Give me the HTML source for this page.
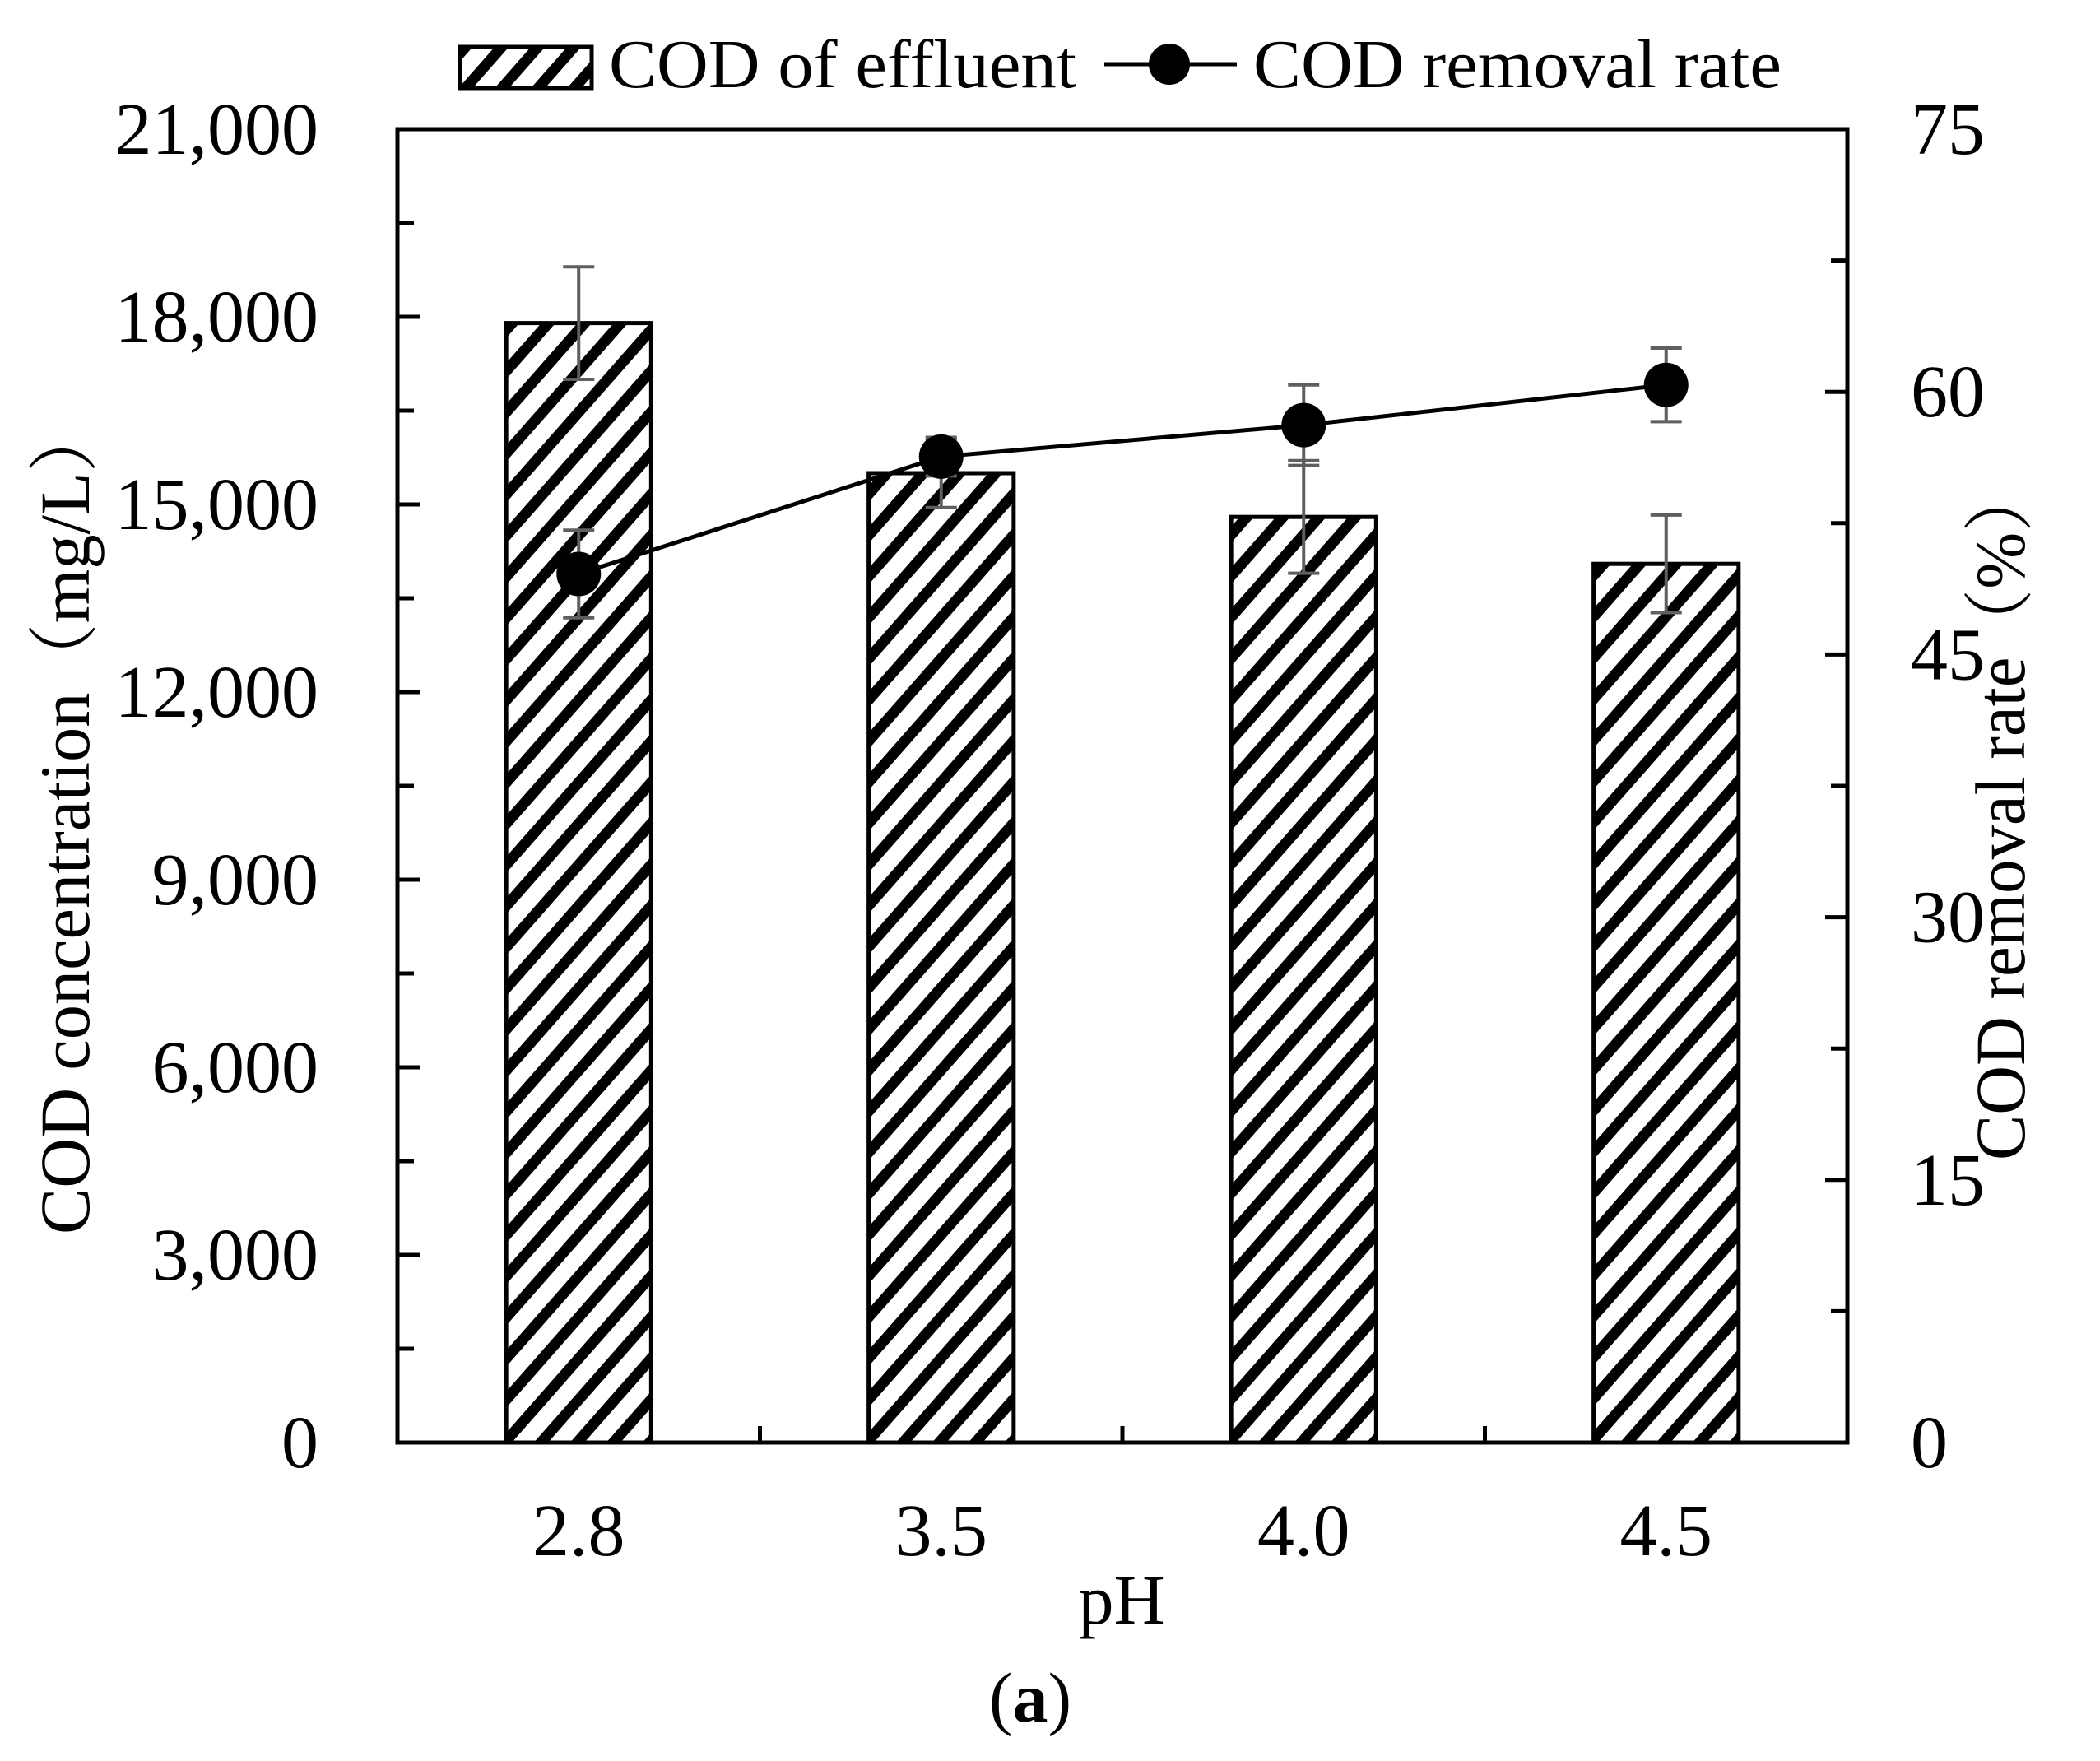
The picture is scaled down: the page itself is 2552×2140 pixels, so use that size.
<!DOCTYPE html>
<html><head><meta charset="utf-8"><style>
html,body{margin:0;padding:0;background:#fff;}
svg{display:block;font-family:"Liberation Serif","Noto Serif CJK SC",serif;}
</style></head><body>
<svg width="2552" height="2140" viewBox="0 0 2552 2140" xmlns="http://www.w3.org/2000/svg">
<defs>
<pattern id="hatch" patternUnits="userSpaceOnUse" width="44" height="50">
<rect width="44" height="50" fill="#fff"/>
<path d="M-11,12.5 L11,-12.5 M0,50 L44,0 M33,62.5 L55,37.5" stroke="#000" stroke-width="13"/>
</pattern>
</defs>
<g id="plot"></g>
<g id="legend">
<rect x="559" y="57" width="160" height="50" fill="url(#hatch)" stroke="#000" stroke-width="5"/>
<text x="740" y="106" font-size="84" textLength="568" lengthAdjust="spacingAndGlyphs">COD of effluent</text>
<line x1="1342" y1="78" x2="1503" y2="78" stroke="#000" stroke-width="5"/>
<circle cx="1421" cy="78" r="25" fill="#000"/>
<text x="1523" y="106" font-size="84" textLength="642" lengthAdjust="spacingAndGlyphs">COD removal rate</text>
</g>
<text x="78" y="965" font-size="86" text-anchor="middle" transform="rotate(-90 108 965)" textLength="1010" lengthAdjust="spacingAndGlyphs">COD concentration（mg/L）</text>
<text x="2460" y="987" font-size="86" text-anchor="middle" transform="rotate(-90 2460 987)" textLength="846" lengthAdjust="spacingAndGlyphs">COD removal rate（%）</text>
<text x="1363" y="1973" font-size="86" text-anchor="middle">pH</text>
<text x="1252" y="2092" font-size="86" text-anchor="middle">(<tspan font-weight="bold">a</tspan>)</text>
</svg>
<script>
const categories = ["2.8","3.5","4.0","4.5"];
const codEffluent = [17900, 15500, 14800, 14050];
const codEffluentErr = [900, 550, 900, 780];
const removalRate = [49.6, 56.3, 58.1, 60.4];
const removalRateErr = [2.5, 1.1, 2.3, 2.1];
const leftTicks = [0,3000,6000,9000,12000,15000,18000,21000];
const leftTickLabels = ["0","3,000","6,000","9,000","12,000","15,000","18,000","21,000"];
const rightTicks = [0,15,30,45,60,75];
const rightTickLabels = ["0","15","30","45","60","75"];

const NS="http://www.w3.org/2000/svg";
const L=483,R=2245,T=157,B=1753;
const yL=v=>B-(v/21000)*(B-T);
const yR=v=>B-(v/75)*(B-T);
const bandW=(R-L)/categories.length;
const xC=i=>L+bandW*(i+0.5);
const g=document.getElementById('plot');
function mk(tag,attrs){const e=document.createElementNS(NS,tag);for(const k in attrs)e.setAttribute(k,attrs[k]);g.appendChild(e);return e;}

categories.forEach((c,i)=>{
  const bw=bandW*0.4, x=xC(i)-bw/2, y=yL(codEffluent[i]);
  const r=mk('rect',{x:x,y:y,width:bw,height:B-y,fill:'url(#hatch)',stroke:'#000','stroke-width':5});
  
  
});
categories.forEach((c,i)=>{
  const x=xC(i), y1=yL(codEffluent[i]+codEffluentErr[i]), y2=yL(codEffluent[i]-codEffluentErr[i]);
  const p=mk('path',{d:`M${x},${y1}V${y2}M${x-19},${y1}H${x+19}M${x-19},${y2}H${x+19}`,stroke:'#5f5f5f','stroke-width':4,fill:'none'});
  
  
});
const fr=mk('rect',{x:L,y:T,width:R-L,height:B-T,fill:'none',stroke:'#000','stroke-width':5});


leftTicks.forEach((v,i)=>{
  const y=yL(v);
  const t=mk('line',{x1:L,x2:L+27,y1:y,y2:y,stroke:'#000','stroke-width':5});
  
  
  if(i<leftTicks.length-1){const ym=yL(v+1500);
    const m=mk('line',{x1:L,x2:L+20,y1:ym,y2:ym,stroke:'#000','stroke-width':5});
    
    }
  const tx=mk('text',{x:387,y:y+30,'font-size':90,'text-anchor':'end'});
  tx.textContent=leftTickLabels[i];
  
  
});
rightTicks.forEach((v,i)=>{
  const y=yR(v);
  const t=mk('line',{x1:R-27,x2:R,y1:y,y2:y,stroke:'#000','stroke-width':5});
  
  
  if(i<rightTicks.length-1){const ym=yR(v+7.5);
    const m=mk('line',{x1:R-20,x2:R,y1:ym,y2:ym,stroke:'#000','stroke-width':5});
    
    }
  const tx=mk('text',{x:2322,y:y+30,'font-size':90});
  tx.textContent=rightTickLabels[i];
  
  
});
for(let i=1;i<categories.length;i++){
  const x=L+bandW*i;
  const t=mk('line',{x1:x,x2:x,y1:B,y2:B-20,stroke:'#000','stroke-width':5});
  
  
}
categories.forEach((c,i)=>{
  const tx=mk('text',{x:xC(i),y:1890,'font-size':90,'text-anchor':'middle'});
  tx.textContent=c;
  
  
});
const pts=categories.map((c,i)=>xC(i)+','+yR(removalRate[i])).join(' ');
const pl=mk('polyline',{points:pts,fill:'none',stroke:'#000','stroke-width':5});


categories.forEach((c,i)=>{
  const x=xC(i), y1=yR(removalRate[i]+removalRateErr[i]), y2=yR(removalRate[i]-removalRateErr[i]);
  const p=mk('path',{d:`M${x},${y1}V${y2}M${x-19},${y1}H${x+19}M${x-19},${y2}H${x+19}`,stroke:'#5f5f5f','stroke-width':4,fill:'none'});
  
  
});
categories.forEach((c,i)=>{
  const pt=mk('circle',{cx:xC(i),cy:yR(removalRate[i]),r:27,fill:'#000'});
  
  
});
</script>
</body></html>
